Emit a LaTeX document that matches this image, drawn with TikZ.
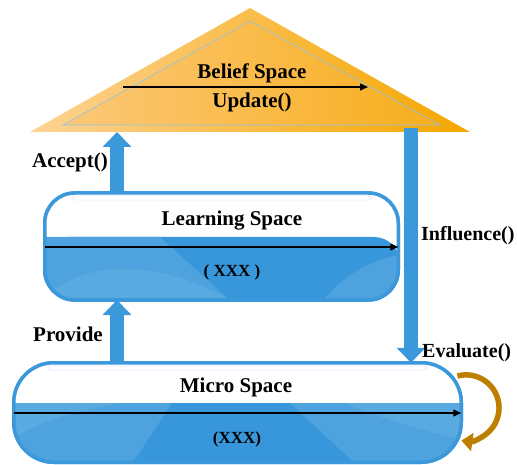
\documentclass[tikz,border=0pt]{standalone}
\usepackage{fontspec}
\setmainfont{Liberation Serif}
\usetikzlibrary{arrows.meta,calc}
\definecolor{bboxblue}{HTML}{3A98DB}
\definecolor{bfill}{HTML}{3797DA}
\definecolor{blight}{HTML}{4EA3DF}
\definecolor{blighter}{HTML}{5AAAE2}
\definecolor{orL}{HTML}{FDD393}
\definecolor{orR}{HTML}{F5A700}
\definecolor{orLi}{HTML}{FCC878}
\definecolor{orRi}{HTML}{F7AE1C}
\definecolor{hline}{HTML}{8FC3E8}
\definecolor{loopc}{HTML}{BD7F00}
\begin{document}
\begin{tikzpicture}[x=1pt,y=1pt,
 lbl/.style={font=\fontsize{21}{25}\selectfont\bfseries, inner sep=0pt},
 sidelbl/.style={font=\fontsize{20}{24}\selectfont\bfseries, inner sep=0pt, anchor=west},
 sub/.style={font=\fontsize{17}{20}\selectfont\bfseries, inner sep=0pt},
 spacebox/.style={draw=bboxblue, line width=3.5pt, outer sep=0pt, inner sep=0pt},
 blockarrow/.style={draw=bboxblue, line width=14pt, -{Triangle[length=15pt,width=28pt]}},
 thinarrow/.style={line width=1.4pt, -{Triangle[length=8pt,width=7pt]}},
 loopline/.style={draw=loopc, line width=5.5pt, -{Triangle[length=11pt,width=18pt]}},
 glint/.style={draw=blue!8, line width=0.8pt, rounded corners=3pt},
]
\useasboundingbox (0,0) rectangle (517,-465);

% ---------- Belief space triangle ----------
\coordinate (TA) at (250,-8);
\coordinate (TL) at (30,-132);
\coordinate (TR) at (470,-132);
\coordinate (IA) at (250,-21);
\coordinate (IL) at (63,-125);
\coordinate (IR) at (440,-125);
\shade[left color=orL, right color=orR] (TL) -- (TA) -- (TR) -- cycle;
\shade[left color=orLi, right color=orRi, draw=hline, line width=0.6pt] (IL) -- (IA) -- (IR) -- cycle;
\node[lbl] (belief) at (252,-73) {Belief Space};
\node[lbl] (update) at (252,-102) {Update()};
\coordinate (ua1) at (123,-87);
\coordinate (ua2) at (368,-87);
\draw[thinarrow] (ua1) -- (ua2);

% ---------- boxes (nodes) ----------
\node[spacebox, minimum width=353.5pt, minimum height=107pt, rounded corners=30pt] (L) at (221.5,-246.5) {};
\node[spacebox, minimum width=447.5pt, minimum height=99.5pt, rounded corners=40pt] (M) at (237.5,-412.5) {};

% ---------- block arrows ----------
\coordinate (acc) at (117,-132);
\coordinate (prov) at (117,0);
\coordinate (inf) at (411,-128);
\draw[blockarrow] (acc |- L.north) -- (acc);
\draw[blockarrow] (prov |- M.north) -- (prov |- L.south);
\draw[blockarrow] (inf) -- (inf |- M.north);

% ---------- Learning space ----------
\fill[white, rounded corners=30pt] (L.south west) rectangle (L.north east);
\begin{scope}
\clip[rounded corners=30pt] (L.south west) rectangle (L.north east);
\fill[bfill, rounded corners=26pt] (43,-237) rectangle (400,-320);
\fill[blight] (43,-237) -- (160,-237) -- (235,-305) -- (43,-305) -- cycle;
\fill[blighter] (43,-300) .. controls (80,-262) and (150,-255) .. (230,-300) -- cycle;
\fill[blight] (320,-305) .. controls (345,-270) and (380,-258) .. (400,-255) -- (400,-305) -- cycle;
\draw[glint] (73,-196) rectangle (372,-200);
\end{scope}
\draw[spacebox, rounded corners=30pt] (L.south west) rectangle (L.north east);
\node[lbl] (ltitle) at (232,-221) {Learning Space};
\node[sub] (lsub) at (232,-272) {( XXX )};
\coordinate (la) at (0,-247);
\draw[thinarrow] (L.west |- la) -- (L.east |- la);

% ---------- Micro space ----------
\fill[white, rounded corners=40pt] (M.south west) rectangle (M.north east);
\begin{scope}
\clip[rounded corners=40pt] (M.south west) rectangle (M.north east);
\fill[bfill, rounded corners=30pt] (12,-403) rectangle (463,-480);
\fill[blight] (12,-403) -- (172,-403) -- (128,-470) -- (12,-470) -- cycle;
\fill[blighter] (12,-403) -- (120,-403) .. controls (70,-412) and (30,-425) .. (12,-440) -- cycle;
\fill[blight] (290,-403) -- (463,-403) -- (463,-470) -- (362,-470) -- cycle;
\fill[blighter] (345,-403) -- (463,-403) -- (463,-440) .. controls (420,-430) and (380,-418) .. (345,-403) -- cycle;
\draw[glint] (48,-366) rectangle (427,-370);
\end{scope}
\draw[spacebox, rounded corners=40pt] (M.south west) rectangle (M.north east);
\node[lbl] (mtitle) at (236,-387) {Micro Space};
\node[sub] (msub) at (237,-439) {(XXX)};
\coordinate (ma) at (0,-413);
\draw[thinarrow] (M.west |- ma) -- (M.east |- ma);

% ---------- Evaluate loop ----------
\draw[loopline] ($(M.north east)+(-3.75,-13.25)$) arc[start angle=105, end angle=-98, radius=33];

% ---------- labels ----------
\node[lbl] (accept) at (70,-162) {Accept()};
\node[lbl] (provide) at (68,-334) {Provide};
\node[sidelbl] (influence) at (421,-236) {Influence()};
\node[sidelbl] (evaluate) at (422,-353) {Evaluate()};
\end{tikzpicture}
\end{document}
